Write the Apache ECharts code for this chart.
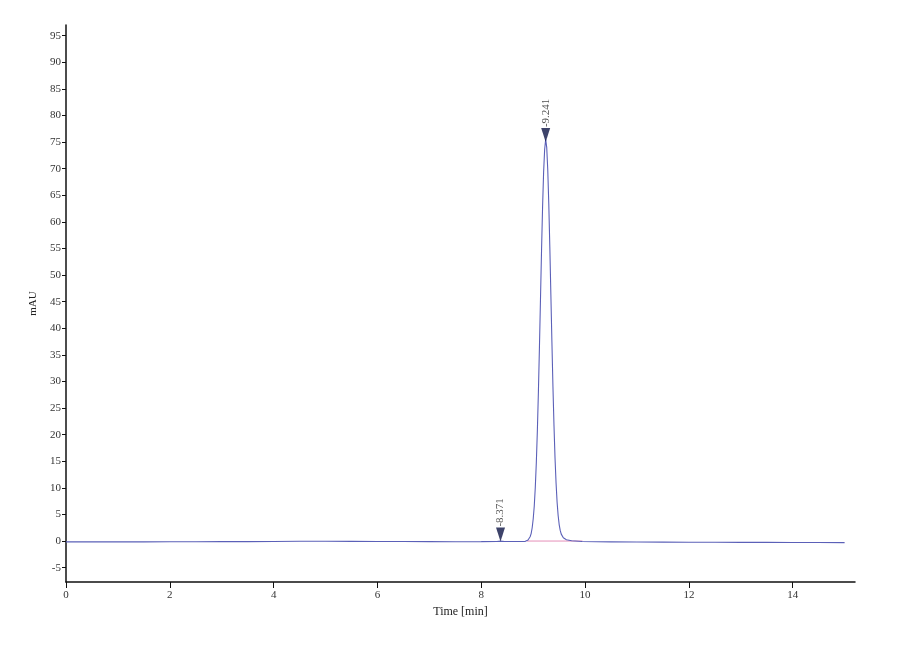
<!DOCTYPE html>
<html>
<head>
<meta charset="utf-8">
<script src="https://cdn.jsdelivr.net/npm/echarts@6/dist/echarts.min.js"></script>
<style>
html,body{margin:0;padding:0;background:#fff;}
#c{width:900px;height:660px;}
</style>
</head>
<body>
<div id="c"></div>
<script>
// Chromatogram signal (time in min, signal in mAU)
var times = [0, 0.5, 1, 1.5, 2, 2.5, 3, 3.5, 4, 4.5, 5, 5.5, 6, 6.5, 7, 7.5, 8, 8.3, 8.371, 8.45, 8.6, 8.75,
  8.841, 8.901, 8.941, 8.961, 8.981, 9.001, 9.021, 9.041, 9.061, 9.081, 9.101, 9.121, 9.141, 9.161, 9.181, 9.201, 9.221,
  9.241, 9.261, 9.281, 9.301, 9.321, 9.341, 9.361, 9.381, 9.401, 9.421, 9.441, 9.461, 9.481, 9.501, 9.521, 9.541,
  9.581, 9.641, 9.741, 9.941, 10.5, 11, 11.5, 12, 12.5, 13, 13.5, 14, 14.5, 15];
var signal = [-0.15, -0.15, -0.16, -0.15, -0.14, -0.14, -0.12, -0.11, -0.08, -0.05, -0.05, -0.06, -0.08, -0.1, -0.12, -0.13, -0.12, -0.1, -0.02, -0.1, -0.1, -0.1,
  -0.1, 0.2, 0.8, 1.4, 2.5, 4.2, 6.6, 10.1, 14.8, 20.8, 28.1, 36.5, 45.5, 54.5, 62.7, 69.3, 73.6,
  75.5, 74.0, 69.8, 63.3, 55.2, 46.3, 37.4, 29.0, 21.7, 15.6, 10.9, 7.3, 4.8, 3.1, 2.0, 1.3,
  0.6, 0.25, 0.05, -0.1, -0.15, -0.18, -0.2, -0.22, -0.24, -0.25, -0.26, -0.27, -0.28, -0.3];
// Integration baseline under the main peak
var baseTimes = [8.88, 9.95];
var baseValues = [0.0, 0.0];
// Peak annotations
var peakTimes = [8.371, 9.241];
var peakValues = [-0.1, 75.0];
var peakLabels = ['8.371', '9.241'];
// Tick labels
var xTicks = [0, 2, 4, 6, 8, 10, 12, 14];
var yTicks = [-5, 0, 5, 10, 15, 20, 25, 30, 35, 40, 45, 50, 55, 60, 65, 70, 75, 80, 85, 90, 95];

var font = 'Liberation Serif';
var lineData = times.map(function (t, i) { return [t, signal[i]]; });
var baseData = baseTimes.map(function (t, i) { return [t, baseValues[i]]; });
var peakData = peakTimes.map(function (t, i) { return { value: [t, peakValues[i]], name: peakLabels[i] }; });

var chart = echarts.init(document.getElementById('c'), null, { renderer: 'canvas' });
chart.setOption({
  animation: false,
  backgroundColor: '#ffffff',
  grid: { left: 66, right: 45, top: 25, bottom: 78, containLabel: false },
  xAxis: {
    type: 'value', min: 0, max: 15.2,
    name: 'Time [min]', nameLocation: 'middle', nameGap: 17,
    nameTextStyle: { fontFamily: font, fontSize: 12, color: '#222' },
    axisLine: { show: true, onZero: false, lineStyle: { color: '#111', width: 1.5 } },
    axisTick: { show: true, length: 6, customValues: xTicks, lineStyle: { color: '#111' } },
    axisLabel: { customValues: xTicks, margin: 8, fontFamily: font, fontSize: 11, color: '#333' },
    splitLine: { show: false }
  },
  yAxis: {
    type: 'value', min: -7.7, max: 97,
    name: 'mAU', nameLocation: 'middle', nameGap: 22,
    nameTextStyle: { fontFamily: font, fontSize: 11, color: '#222' },
    axisLine: { show: true, onZero: false, lineStyle: { color: '#111', width: 1.5 } },
    axisTick: { show: true, length: 4, customValues: yTicks, lineStyle: { color: '#111' } },
    axisLabel: { customValues: yTicks, margin: 5, fontFamily: font, fontSize: 11, color: '#333' },
    splitLine: { show: false }
  },
  series: [
    {
      type: 'line', data: baseData, showSymbol: false, silent: true,
      lineStyle: { color: '#e58fb8', width: 1 }, z: 1
    },
    {
      type: 'line', data: lineData, showSymbol: false, smooth: false,
      lineStyle: { color: '#5b60b8', width: 1.1 }, z: 2
    },
    {
      type: 'scatter', data: peakData, z: 3,
      symbol: 'triangle', symbolRotate: 180, symbolSize: [9, 14], symbolOffset: [0, -7],
      itemStyle: { color: '#0c1445' },
      label: {
        show: true, position: 'top', distance: 1, rotate: 90,
        align: 'left', verticalAlign: 'middle',
        formatter: function (p) { return '-' + p.name; },
        fontFamily: font, fontSize: 11, color: '#222'
      }
    }
  ]
});
</script>
</body>
</html>
